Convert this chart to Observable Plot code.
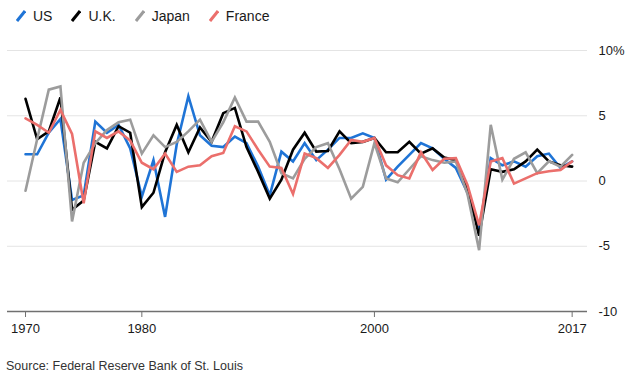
<!DOCTYPE html>
<html>
<head>
<meta charset="utf-8">
<script src="https://cdn.jsdelivr.net/npm/d3@7"></script>
<script src="https://cdn.jsdelivr.net/npm/@observablehq/plot@0.6"></script>
<style>
  html, body { margin: 0; padding: 0; background: #fff; }
  body { width: 632px; height: 378px; overflow: hidden; font-family: "Liberation Sans", Arial, sans-serif; color: #1a1a1a; }
  #legend { height: 30px; display: flex; align-items: center; padding-left: 16px; font-size: 14px; box-sizing: border-box; padding-top: 2px; }
  .item { display: flex; align-items: center; margin-right: 19px; }
  .item svg { margin-right: 7px; }
  #source { font-size: 12.5px; color: #333; padding-left: 6px; margin-top: 18px; }
  #chart svg { display: block; }
</style>
</head>
<body>
<div id="legend"></div>
<div id="chart"></div>
<div id="source">Source: Federal Reserve Bank of St. Louis</div>
<script>
const years = [1970,1971,1972,1973,1974,1975,1976,1977,1978,1979,
  1980,1981,1982,1983,1984,1985,1986,1987,1988,1989,
  1990,1991,1992,1993,1994,1995,1996,1997,1998,1999,
  2000,2001,2002,2003,2004,2005,2006,2007,2008,2009,
  2010,2011,2012,2013,2014,2015,2016,2017];

const usValues = [2.05,2.05,3.7,4.75,-1.45,-1.1,4.55,3.7,4.3,2.5,
  -1.2,1.6,-2.75,2.8,6.5,3.5,2.7,2.6,3.4,2.9,
  1.1,-1.1,2.25,1.5,2.9,1.6,2.4,3.3,3.3,3.65,
  3.3,0.1,1.1,2.0,2.9,2.5,1.7,1.0,-0.9,-3.8,
  1.75,1.2,1.5,1.1,1.9,2.1,1.0,1.5];

const ukValues = [6.3,3.2,3.8,6.4,-2.2,-1.5,3.0,2.5,4.2,3.7,
  -2.0,-0.9,2.2,4.3,2.2,4.1,3.0,5.2,5.6,2.6,
  0.7,-1.35,0.1,2.4,3.7,2.25,2.3,3.8,2.9,3.0,
  3.3,2.2,2.2,3.0,2.1,2.5,1.8,1.6,-0.5,-4.2,
  0.9,0.7,0.9,1.5,2.4,1.5,1.2,1.1];

const japanValues = [-0.75,3.2,7.0,7.25,-3.1,1.4,2.9,3.9,4.5,4.7,
  2.1,3.5,2.6,3.0,3.8,4.7,3.0,4.5,6.4,4.55,
  4.55,3.0,0.6,0.2,1.7,2.6,2.9,0.9,-1.35,-0.45,
  2.9,0.2,-0.1,0.9,1.9,1.6,1.4,1.5,-1.0,-5.3,
  4.3,0.1,1.7,2.2,0.6,1.5,1.1,2.0];

const franceValues = [4.8,4.3,3.7,5.45,3.6,-1.7,3.8,3.3,3.8,3.1,
  1.4,0.9,2.1,0.7,1.1,1.2,1.9,2.15,4.2,3.8,
  2.4,1.1,1.0,-1.0,2.1,1.75,1.0,2.0,3.15,3.0,
  3.3,1.2,0.45,0.2,2.2,0.85,1.7,1.75,-0.3,-3.4,
  1.5,1.75,-0.2,0.2,0.6,0.75,0.85,1.5];

const seriesNames = ["US", "U.K.", "Japan", "France"];
const seriesColors = ["#1f74d6", "#000000", "#9c9c9c", "#eb6f6c"];
const xTicks = [1970, 1980, 2000, 2017];
const yTicks = [-10, -5, 0, 5, 10];
const yTickLabels = ["-10", "-5", "0", "5", "10%"];

const valuesBySeries = [usValues, ukValues, japanValues, franceValues];
const data = [];
seriesNames.forEach((s, i) => {
  years.forEach((yr, j) => data.push({series: s, year: yr, value: valuesBySeries[i][j]}));
});

// legend
const legend = document.getElementById("legend");
seriesNames.forEach((s, i) => {
  const item = document.createElement("div");
  item.className = "item";
  item.innerHTML = `<svg width="10" height="12"><line x1="1" y1="11" x2="9" y2="1" stroke="${seriesColors[i]}" stroke-width="3"/></svg><span>${s}</span>`;
  legend.appendChild(item);
});

const chart = Plot.plot({
  width: 632,
  height: 311,
  marginTop: 20,
  marginBottom: 30,
  marginLeft: 7,
  marginRight: 45,
  style: {fontFamily: "Liberation Sans, Arial, sans-serif", fontSize: "13px", color: "#1a1a1a", background: "#fff"},
  x: {domain: [1968.45, 2018.32]},
  y: {domain: [-10, 10]},
  color: {domain: seriesNames, range: seriesColors},
  marks: [
    Plot.ruleY(yTicks.filter(d => d > -10), {stroke: "#e4e4e4", strokeWidth: 1}),
    Plot.ruleY([-10], {stroke: "#707070", strokeWidth: 1.5}),
    Plot.axisX({ticks: xTicks, tickSize: 6, tickPadding: 6, tickFormat: d => String(d), stroke: "#707070", label: null}),
    Plot.axisY({anchor: "right", ticks: yTicks, tickSize: 0, tickPadding: 11, tickFormat: d => yTickLabels[yTicks.indexOf(d)], label: null}),
    Plot.line(data, {x: "year", y: "value", z: "series", stroke: "series", strokeWidth: 2.6, strokeLinejoin: "miter", strokeMiterlimit: 4})
  ]
});
document.getElementById("chart").appendChild(chart);
</script>
</body>
</html>
